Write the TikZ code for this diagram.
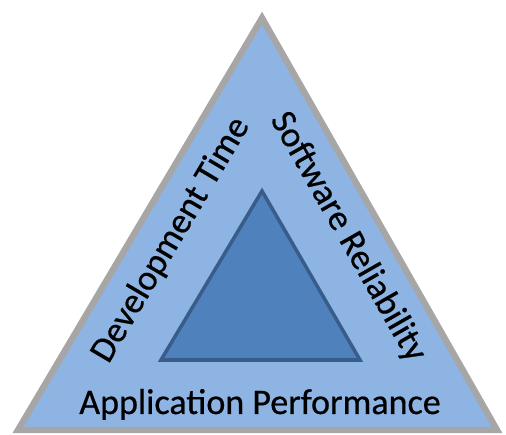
\documentclass[tikz,border=0pt]{standalone}
\usepackage{fontspec}
\setmainfont{Carlito}
\newfontfamily\sidefont[FakeBold=0.6]{Carlito}
\definecolor{outerblue}{HTML}{8EB4E3}
\definecolor{outergray}{HTML}{A6A6A6}
\definecolor{innerblue}{HTML}{4F81BD}
\definecolor{innerline}{HTML}{385D8A}
\tikzset{outer/.style = {draw=outergray, fill=outerblue, line width=3.6pt},
         inner/.style = {draw=innerline, fill=innerblue, line width=2pt},
         side/.style = {inner sep=0pt, font=\sidefont\fontsize{20.5}{24}\selectfont}}

\begin{document}
\begin{tikzpicture}[x=0.02cm,y=0.02cm]
    \useasboundingbox(0,0)rectangle(506,435);
    \coordinate(top)at(262,417);
    \coordinate(left)at(18,5);
    \coordinate(right)at(497,5);
    \coordinate(itop)at(262,244);
    \coordinate(ileft)at(161,75);
    \coordinate(iright)at(360,75);
    \draw[outer](left)--(top)--(right)--cycle;
    \draw[inner](ileft)--(itop)--(iright)--cycle;
    \node[side,rotate=59.4](dev)at(171,195){Development Time};
    \node[side,rotate=-60.3](rel)at(348,198){Software Reliability};
    \node[side,anchor=base](perf)at(260,21){Application Performance};
\end{tikzpicture}
\end{document}
